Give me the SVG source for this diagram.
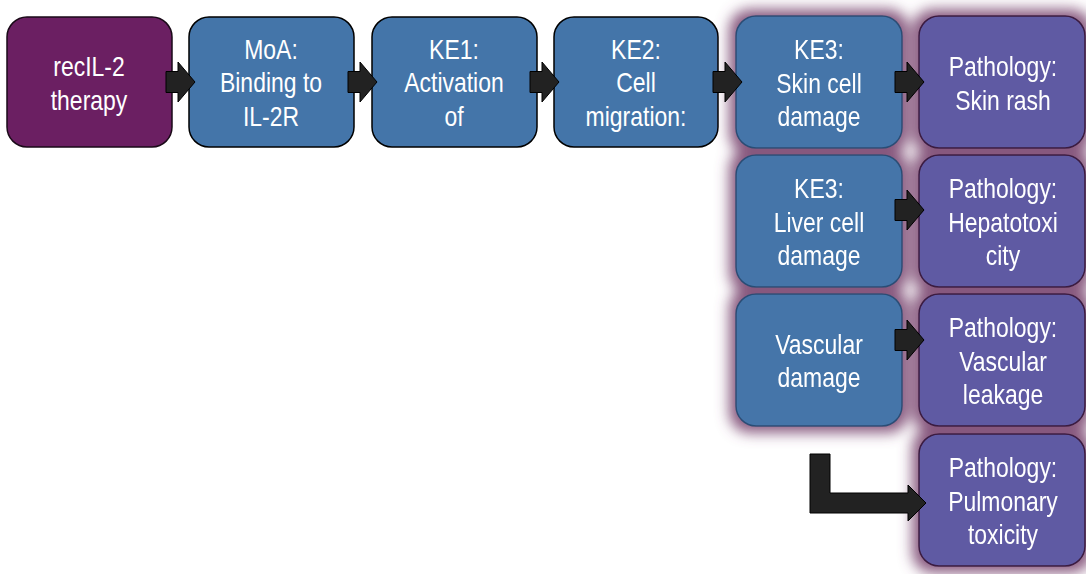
<svg xmlns="http://www.w3.org/2000/svg" width="1086" height="574" viewBox="0 0 1086 574">
<defs>
<filter id="glow" x="-25%" y="-25%" width="150%" height="150%">
<feMorphology in="SourceAlpha" operator="dilate" radius="6" result="d"/>
<feGaussianBlur in="d" stdDeviation="7" result="b"/>
<feFlood flood-color="#7a4670" flood-opacity="0.9"/>
<feComposite in2="b" operator="in" result="g"/>
<feMerge><feMergeNode in="g"/><feMergeNode in="SourceGraphic"/></feMerge>
</filter>
<path id="arr" d="M0,-10.5 H12 V-20 L29,0 L12,20 V10.5 H0 Z"/>
</defs>
<style>
text{font-family:"Liberation Sans",Arial,sans-serif;font-size:28px;fill:#fff;text-anchor:middle}
.start{fill:#6b1f62;stroke:#1a0a18;stroke-width:1.5}
.ke{fill:#4475a9;stroke:#000;stroke-width:1.5}
.ke2{fill:#4475a9;stroke:#2b4d75;stroke-width:1.5}
.path{fill:#5f5aa3;stroke:#3a1a40;stroke-width:1.5}
.arrow{fill:#222;stroke:#000;stroke-width:1}
</style>
<g id="n-recil2"><rect class="start" x="7" y="17" width="165" height="130" rx="20"/><g transform="translate(89 0) scale(0.82 1)"><text x="0" y="76">recIL-2</text><text x="0" y="110">therapy</text></g></g>
<g id="n-moa"><rect class="ke" x="189" y="17" width="165" height="130" rx="20"/><g transform="translate(271 0) scale(0.82 1)"><text x="0" y="59">MoA:</text><text x="0" y="92">Binding to</text><text x="0" y="126">IL-2R</text></g></g>
<g id="n-ke1"><rect class="ke" x="372" y="17" width="165" height="130" rx="20"/><g transform="translate(454 0) scale(0.82 1)"><text x="0" y="59">KE1:</text><text x="0" y="92">Activation</text><text x="0" y="126">of</text></g></g>
<g id="n-ke2"><rect class="ke" x="554" y="17" width="164" height="130" rx="20"/><g transform="translate(636 0) scale(0.82 1)"><text x="0" y="59">KE2:</text><text x="0" y="92">Cell</text><text x="0" y="126">migration:</text></g></g>
<g filter="url(#glow)">
<g id="n-ke3skin"><rect class="ke2" x="736" y="16" width="166" height="132" rx="20"/><g transform="translate(819 0) scale(0.82 1)"><text x="0" y="59">KE3:</text><text x="0" y="93">Skin cell</text><text x="0" y="126">damage</text></g></g>
<g id="n-skinrash"><rect class="path" x="919" y="16" width="166" height="132" rx="20"/><g transform="translate(1003 0) scale(0.82 1)"><text x="0" y="76">Pathology:</text><text x="0" y="110">Skin rash</text></g></g>
<g id="n-ke3liver"><rect class="ke2" x="736" y="155" width="166" height="132" rx="20"/><g transform="translate(819 0) scale(0.82 1)"><text x="0" y="198">KE3:</text><text x="0" y="232">Liver cell</text><text x="0" y="265">damage</text></g></g>
<g id="n-hepato"><rect class="path" x="919" y="155" width="166" height="132" rx="20"/><g transform="translate(1003 0) scale(0.82 1)"><text x="0" y="198">Pathology:</text><text x="0" y="232">Hepatotoxi</text><text x="0" y="265">city</text></g></g>
<g id="n-vascular"><rect class="ke2" x="736" y="294" width="166" height="132" rx="20"/><g transform="translate(819 0) scale(0.82 1)"><text x="0" y="354">Vascular</text><text x="0" y="387">damage</text></g></g>
<g id="n-leakage"><rect class="path" x="919" y="294" width="166" height="132" rx="20"/><g transform="translate(1003 0) scale(0.82 1)"><text x="0" y="337">Pathology:</text><text x="0" y="371">Vascular</text><text x="0" y="404">leakage</text></g></g>
<g id="n-pulmonary"><rect class="path" x="919" y="434" width="166" height="132" rx="20"/><g transform="translate(1003 0) scale(0.82 1)"><text x="0" y="477">Pathology:</text><text x="0" y="511">Pulmonary</text><text x="0" y="544">toxicity</text></g></g>
</g>
<g id="connectors" class="arrow">
<use href="#arr" x="166" y="82"/>
<use href="#arr" x="348" y="82"/>
<use href="#arr" x="530" y="82"/>
<use href="#arr" x="713" y="82"/>
<use href="#arr" x="895" y="82"/>
<use href="#arr" x="895" y="210"/>
<use href="#arr" x="895" y="340"/>
<path d="M810,454 H830 V493 H908 V485 L926,503 L908,521 V513 H810 Z"/>
</g>
</svg>
